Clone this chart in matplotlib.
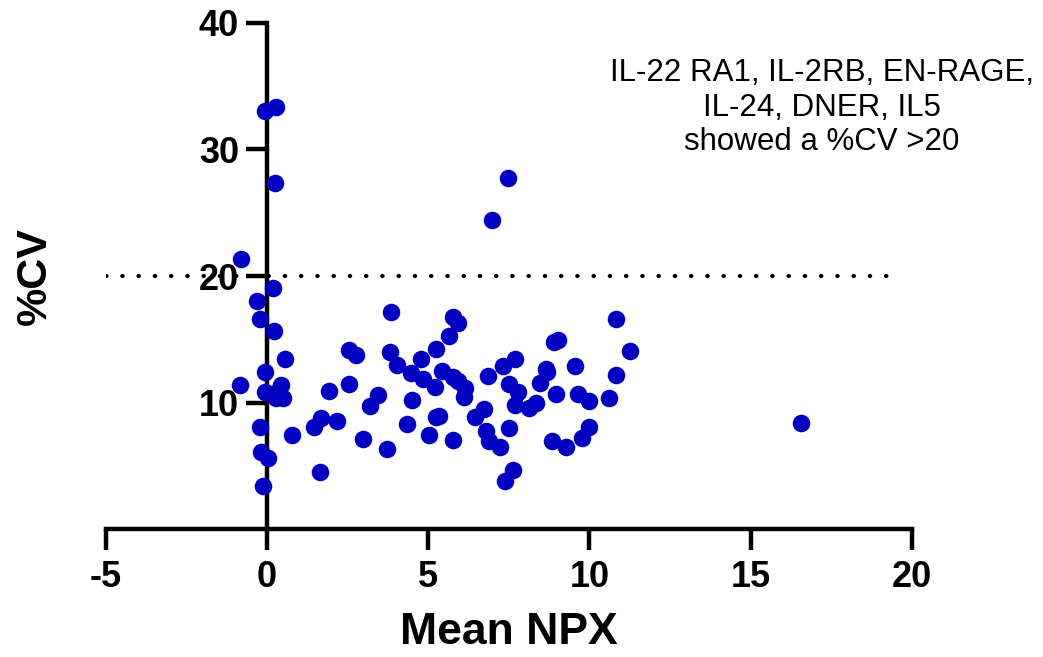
#? Bibliotecas
import numpy as np
import matplotlib
matplotlib.use('Agg')
import matplotlib.pyplot as plt

#! Datos: Mean NPX (x) y %CV (y)
mean_npx = [-0.07, 0.27, 0.24, -0.79, 0.18, -0.32, -0.23, 0.23, 0.57, -0.07,
            -0.85, 0.45, -0.07, 0.24, 0.49, 0.29, -0.23, -0.17, 0.02, -0.13,
            0.79, 1.94, 1.45, 1.69, 2.18, 1.65, 2.53, 2.53, 2.77, 3.86,
            5.76, 5.92, 5.63, 3.83, 4.03, 5.23, 4.78, 4.47, 4.83, 5.42,
            5.76, 5.92, 6.13, 6.10, 5.22, 3.44, 3.20, 4.49, 5.25, 5.33,
            6.44, 4.35, 2.97, 5.01, 5.76, 3.72, 10.81, 11.26, 8.89, 9.02,
            7.68, 7.31, 6.85, 8.64, 8.68, 9.54, 10.81, 7.50, 7.78, 8.48,
            8.97, 9.64, 9.98, 10.62, 7.68, 8.33, 8.14, 6.72, 7.50, 6.80,
            6.90, 7.23, 8.84, 9.28, 10.00, 9.76, 7.62, 7.39, 16.56, 6.99,
            7.46]
cv_pct = [33.05, 33.35, 27.35, 21.35, 19.06, 18.04, 16.61, 15.69, 13.48, 12.43,
          11.41, 11.41, 10.88, 10.77, 10.38, 10.38, 8.09, 6.14, 5.64, 3.43,
          7.46, 10.95, 8.11, 8.80, 8.59, 4.56, 14.17, 11.48, 13.77, 17.19,
          16.80, 16.27, 15.30, 13.99, 13.01, 14.22, 13.48, 12.38, 11.85, 12.51,
          12.01, 11.74, 11.14, 10.43, 11.22, 10.59, 9.72, 10.20, 8.86, 8.96,
          8.86, 8.33, 7.17, 7.43, 7.06, 6.38, 16.61, 14.11, 14.78, 14.96,
          13.46, 12.93, 12.14, 12.67, 12.45, 12.90, 12.19, 11.48, 10.88, 11.54,
          10.69, 10.69, 10.17, 10.36, 9.83, 10.01, 9.57, 9.49, 7.99, 7.80,
          7.01, 6.54, 7.01, 6.54, 8.07, 7.20, 4.70, 3.85, 8.38, 24.43,
          27.74]

umbral = 20  #todo linea punteada de %CV
x_ticks = [-5, 0, 5, 10, 15, 20]
y_ticks = [10, 20, 30, 40]
nota = 'IL-22 RA1, IL-2RB, EN-RAGE,\nIL-24, DNER, IL5\nshowed a %CV >20'

#? Estilo general (fuente tipo Arial, guion normal en -5)
plt.rcParams['font.family'] = ['Liberation Sans', 'DejaVu Sans']
plt.rcParams['axes.unicode_minus'] = False

#! Lienzo
fig = plt.figure(figsize=(10.43, 6.57), dpi=100)
ax = fig.add_axes([0.1013, 0.1941, 0.7731, 0.7714])

#? Puntos
ax.scatter(mean_npx, cv_pct, s=160, color='#0000C0', linewidths=0, zorder=3, clip_on=False)

#? Linea punteada en 20
ax.plot([-5, 19.6], [umbral, umbral], color='black', lw=3,
        linestyle=(0, (0.1, 3.8)), dash_capstyle='round', zorder=2)

#? Ejes estilo Prism
ax.set_xlim(-5, 20)
ax.set_ylim(0, 40)
ax.spines['top'].set_visible(False)
ax.spines['right'].set_visible(False)
ax.spines['left'].set_position(('data', 0))
for s in ['left', 'bottom']:
    ax.spines[s].set_linewidth(3.2)
ax.set_xticks(x_ticks)
ax.set_yticks(y_ticks)
ax.tick_params(axis='both', direction='out', length=15, width=3.2, labelsize=26)
ax.tick_params(axis='x', pad=7)
ax.tick_params(axis='y', pad=5)
for lab in ax.get_xticklabels() + ax.get_yticklabels():
    lab.set_fontweight('bold')

ax.set_xlabel('Mean NPX', fontsize=32, fontweight='bold', labelpad=12)
ax.set_ylabel('%CV', fontsize=31, fontweight='bold', va='center')
ax.yaxis.set_label_coords(-0.088, 0.5)

#? Nota
ax.text(17.2, 33.3, nota, ha='center', va='center', fontsize=22.5,
        linespacing=1.2, clip_on=False)

fig.savefig('out.png', dpi=100)
